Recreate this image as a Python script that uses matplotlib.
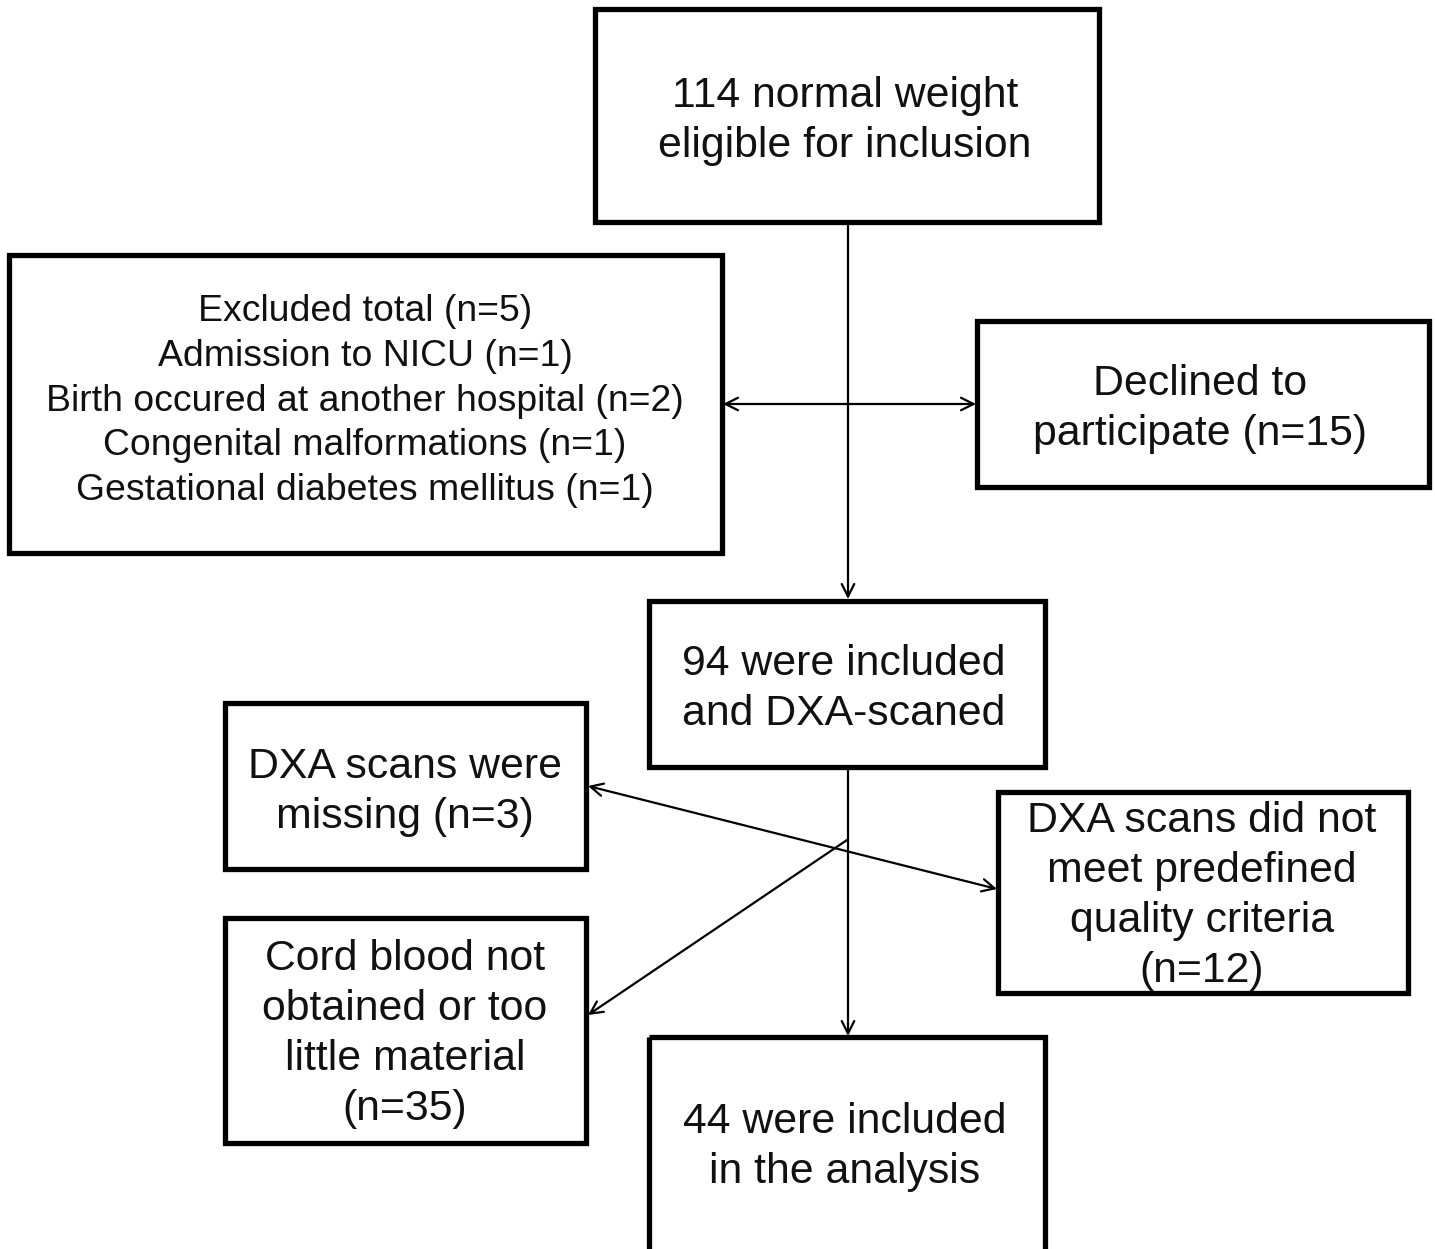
import matplotlib.pyplot as plt
from matplotlib.patches import Rectangle

# box texts
box_texts = {
    'top': '114 normal weight\neligible for inclusion',
    'excluded': 'Excluded total (n=5)\nAdmission to NICU (n=1)\nBirth occured at another hospital (n=2)\n'
                'Congenital malformations (n=1)\nGestational diabetes mellitus (n=1)',
    'declined': 'Declined to\nparticipate (n=15)',
    'included': '94 were included\nand DXA-scaned',
    'missing': 'DXA scans were\nmissing (n=3)',
    'quality': 'DXA scans did not\nmeet predefined\nquality criteria\n(n=12)',
    'cord': 'Cord blood not\nobtained or too\nlittle material\n(n=35)',
    'analysis': '44 were included\nin the analysis',
}

# x0, y0, x1, y1 in pixels (y downward)
boxes = {
    'top': (595, 9, 1099, 222),
    'excluded': (9, 255, 722, 553),
    'declined': (977, 321, 1429, 487),
    'included': (649, 601, 1045, 767),
    'missing': (225, 703, 586, 869),
    'quality': (998, 792, 1408, 993),
    'cord': (225, 918, 586, 1143),
    'analysis': (649, 1037, 1045, 1262),
}
text_pos = {
    'top': (845, 121),
    'excluded': (365, 401),
    'declined': (1200, 409),
    'included': (844, 689),
    'missing': (405, 792),
    'quality': (1202, 896),
    'cord': (405, 1034),
    'analysis': (845, 1147),
}

W, H = 1435, 1249
fig = plt.figure(figsize=(W / 100, H / 100), dpi=100)
ax = fig.add_axes([0, 0, 1, 1])
ax.set_xlim(0, W)
ax.set_ylim(H, 0)
ax.axis('off')

for key, (x0, y0, x1, y1) in boxes.items():
    ax.add_patch(Rectangle((x0, y0), x1 - x0, y1 - y0, fill=False,
                           edgecolor='black', linewidth=3.8, joinstyle='miter'))
    tx, ty = text_pos[key]
    if key == 'excluded':
        fs, ls = 26.9, 1.36
    else:
        fs, ls = 30.8, 1.32
    ax.text(tx, ty, box_texts[key], ha='center', va='center',
            fontsize=fs, family='Liberation Sans',
            linespacing=ls, color='#111111')

arrow = dict(arrowstyle='->,head_length=0.9,head_width=0.45', color='black',
             lw=1.6, shrinkA=0, shrinkB=0)
both = dict(arrow, arrowstyle='<->,head_length=0.9,head_width=0.45')


def arr(p0, p1, props=arrow):
    ax.annotate('', xy=p1, xytext=p0, arrowprops=props)


# main flow
arr((848, 222), (848, 599))
arr((848, 767), (848, 1036))
# side arrows
arr((723, 404), (976, 404), both)
arr((588, 786), (997, 889), both)
arr((847, 840), (588, 1015))

fig.savefig('out.png', dpi=100)
